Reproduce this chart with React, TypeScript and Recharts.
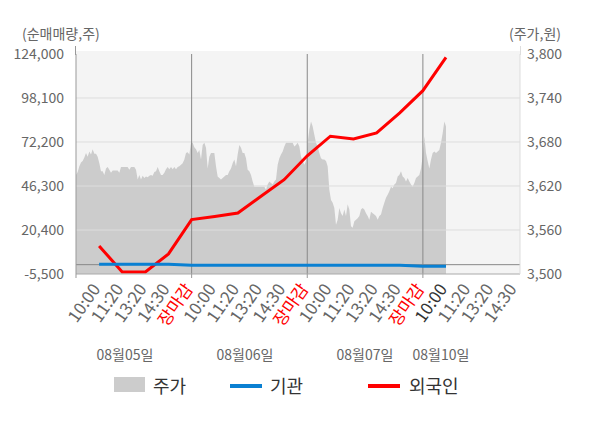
import React from 'react';
import { ComposedChart, Area, Line, XAxis, YAxis, CartesianGrid, ReferenceLine } from 'recharts';

const FONT = '"Noto Sans CJK KR", "Noto Sans", sans-serif';

// 주가 (stock price, won) sampled left to right across the first 16 slots
const priceValues = [
  3635, 3639, 3647, 3652, 3654, 3659, 3665, 3660, 3667, 3663, 3670, 3664, 3664, 3660, 3651, 3640,
  3640, 3635, 3644, 3646, 3642, 3638, 3641, 3641, 3641, 3641, 3638, 3646, 3646, 3646, 3646, 3646,
  3642, 3646, 3646, 3646, 3642, 3629, 3635, 3629, 3634, 3631, 3633, 3632, 3634, 3635, 3634, 3639,
  3640, 3646, 3640, 3635, 3635, 3638, 3643, 3646, 3643, 3646, 3643, 3646, 3643, 3646, 3647, 3649,
  3651, 3656, 3665, 3666, 3663, 3679, 3679, 3673, 3670, 3665, 3669, 3656, 3676, 3679,
  3672, 3644, 3660, 3665, 3665, 3665, 3647, 3633, 3631, 3629, 3631, 3633, 3635, 3635, 3640, 3644,
  3651, 3656, 3647, 3663, 3676, 3672, 3665, 3665, 3658, 3642, 3640, 3635, 3626, 3619, 3619, 3619,
  3619, 3619, 3619, 3619, 3615, 3622, 3626, 3624, 3622, 3626, 3629, 3649, 3658, 3663, 3667, 3674,
  3679, 3679, 3679, 3679, 3679, 3674, 3676, 3679, 3674, 3660, 3654, 3649, 3654, 3679, 3697, 3708,
  3701, 3690, 3679, 3674, 3665, 3658,
  3656, 3656, 3654, 3647, 3615, 3601, 3597, 3590, 3567, 3574, 3590, 3583, 3579, 3588, 3579, 3595,
  3588, 3565, 3563, 3572, 3574, 3576, 3579, 3588, 3590, 3588, 3583, 3579, 3574, 3585, 3583, 3581,
  3579, 3574, 3579, 3581, 3590, 3597, 3604, 3608, 3613, 3619, 3617, 3622, 3624, 3633, 3635, 3640,
  3633, 3631, 3626, 3631, 3626, 3622, 3619, 3624, 3631, 3633, 3635, 3644, 3660, 3688, 3665, 3654,
  3644, 3656, 3665, 3667, 3665, 3667, 3669, 3679, 3692, 3708, 3701,
];
const AREA_END_SLOT = 16;

// 기관 / 외국인 cumulative net buying at each time slot
const slotPositions = [1, 2, 3, 4, 5, 6, 7, 8, 9, 10, 11, 12, 13, 14, 15, 16];
const foreignValues = [11000, -4300, -4300, 6300, 26500, 28400, 30400, 40300, 50000, 64100, 75600, 74000, 77500, 89300, 102400, 122000];
const instValues = [300, 300, 300, 300, -300, -300, -300, -300, -300, -300, -300, -300, -300, -300, -900, -900];

const timeLabels = [
  '10:00', '11:20', '13:20', '14:30', '장마감',
  '10:00', '11:20', '13:20', '14:30', '장마감',
  '10:00', '11:20', '13:20', '14:30', '장마감',
  '10:00', '11:20', '13:20', '14:30',
];
const xTicks = [0, 1, 2, 3, 4, 5, 6, 7, 8, 9, 10, 11, 12, 13, 14, 15, 16, 17, 18, 19];
const dayBoundaries = [5, 10, 15];
const dayLabels = ['08월05일', '08월06일', '08월07일', '08월10일'];
const dayLabelX = [125, 245, 365, 441];

const leftTicks = [-5500, 20400, 46300, 72200, 98100, 124000];
const rightTicks = [3500, 3560, 3620, 3680, 3740, 3800];

const areaData = priceValues.map((p, i) => ({ x: (i * AREA_END_SLOT) / (priceValues.length - 1), price: p }));
const lineData = slotPositions.map((s, i) => ({ x: s, foreign: foreignValues[i], inst: instValues[i] }));

const fmt = (v: number) => v.toLocaleString('en-US');

const XTick = (props: any) => {
  const { x, y, payload } = props;
  const v = payload.value as number;
  const parts: any[] = [];
  if (v === 0 || dayBoundaries.includes(v)) {
    parts.push(<line key="t" x1={x} y1={y} x2={x} y2={y + 4} stroke="#999" strokeWidth={1} />);
  }
  if (v >= 1) {
    const idx = v - 1;
    const label = timeLabels[idx];
    let fill = '#666';
    if (label === '장마감') fill = '#ff0000';
    if (idx === 15) fill = '#333';
    const ax = x + 2;
    const ay = y + 15;
    parts.push(
      <text key="l" x={ax} y={ay} textAnchor="end" fill={fill}
        style={{ fontSize: '17px', fontFamily: FONT }}
        transform={`rotate(-55, ${ax}, ${ay})`}>{label}</text>
    );
  }
  return <g>{parts}</g>;
};

export default function App() {
  return (
    <div style={{ position: 'absolute', left: 0, top: 0, width: 600, height: 428, background: '#fff', fontFamily: FONT }}>
      <div style={{ position: 'absolute', left: 76, top: 51, width: 444, height: 4, background: '#f4f4f4' }} />
      <div style={{ position: 'absolute', left: 75, top: 46, width: 1, height: 9, background: '#999' }} />
      <div style={{ position: 'absolute', left: 520, top: 46, width: 1, height: 9, background: '#ddd' }} />
      <div style={{ position: 'absolute', left: 0, top: 0 }}>
        <ComposedChart width={600} height={428} margin={{ top: 54, right: 0, bottom: 94, left: 0 }} style={{ fontFamily: FONT }}>
          <CartesianGrid horizontal={false} vertical={false} fill="#f4f4f4" stroke="none" />
          <XAxis xAxisId="x" type="number" dataKey="x" domain={[0, 19.2]} ticks={xTicks} interval={0}
            height={60} tickLine={false} tickSize={0} tickMargin={0} axisLine={{ stroke: '#aaa' }}
            tick={<XTick />} allowDataOverflow />
          <YAxis yAxisId="left" orientation="left" width={76} domain={[-5500, 124000]} ticks={leftTicks}
            interval={0} tickFormatter={fmt} tickLine={false} tickSize={0} tickMargin={12}
            axisLine={{ stroke: '#999' }} tick={{ fontSize: 14, fill: '#666', fontFamily: FONT }} allowDataOverflow />
          <YAxis yAxisId="right" orientation="right" width={80} domain={[3500, 3800]} ticks={rightTicks}
            interval={0} tickFormatter={fmt} tickLine={false} tickSize={0} tickMargin={7}
            axisLine={{ stroke: '#ddd' }} tick={{ fontSize: 14, fill: '#666', fontFamily: FONT }} allowDataOverflow />
          <Area xAxisId="x" yAxisId="right" data={areaData} dataKey="price" type="linear" fill="#cccccc"
            fillOpacity={1} stroke="none" isAnimationActive={false} dot={false} activeDot={false} />
          {leftTicks.slice(1, 5).map((t) => (
            <ReferenceLine key={t} xAxisId="x" yAxisId="left" y={t} stroke="#dddddd" strokeWidth={1} />
          ))}
          {dayBoundaries.map((b) => (
            <ReferenceLine key={b} xAxisId="x" yAxisId="left" x={b} stroke="#888" strokeWidth={1} />
          ))}
          <ReferenceLine xAxisId="x" yAxisId="left" y={0} stroke="#888" strokeWidth={1} />
          <Line xAxisId="x" yAxisId="left" data={lineData} dataKey="foreign" type="linear" stroke="#ff0000"
            strokeWidth={3} dot={false} activeDot={false} isAnimationActive={false} />
          <Line xAxisId="x" yAxisId="left" data={lineData} dataKey="inst" type="linear" stroke="#0a80d2"
            strokeWidth={3} dot={false} activeDot={false} isAnimationActive={false} />
        </ComposedChart>
      </div>

      <div style={{ position: 'absolute', left: 22, top: 23, fontSize: 14, color: '#666', lineHeight: '20px', whiteSpace: 'nowrap' }}>(순매매량,주)</div>
      <div style={{ position: 'absolute', left: 509, top: 23, fontSize: 14, color: '#666', lineHeight: '20px', whiteSpace: 'nowrap' }}>(주가,원)</div>

      {dayLabels.map((d, i) => (
        <div key={d} style={{ position: 'absolute', left: dayLabelX[i], top: 344, transform: 'translateX(-50%)', fontSize: 14, color: '#666', lineHeight: '20px', whiteSpace: 'nowrap' }}>{d}</div>
      ))}

      <div style={{ position: 'absolute', left: 114, top: 377, width: 31, height: 15, background: '#cccccc' }} />
      <div style={{ position: 'absolute', left: 153, top: 373, fontSize: 18, color: '#333', lineHeight: '24px', whiteSpace: 'nowrap' }}>주가</div>
      <div style={{ position: 'absolute', left: 230, top: 384, width: 32, height: 4, background: '#0a80d2' }} />
      <div style={{ position: 'absolute', left: 270, top: 373, fontSize: 18, color: '#333', lineHeight: '24px', whiteSpace: 'nowrap' }}>기관</div>
      <div style={{ position: 'absolute', left: 368, top: 384, width: 32, height: 4, background: '#ff0000' }} />
      <div style={{ position: 'absolute', left: 409, top: 373, fontSize: 18, color: '#333', lineHeight: '24px', whiteSpace: 'nowrap' }}>외국인</div>
    </div>
  );
}
